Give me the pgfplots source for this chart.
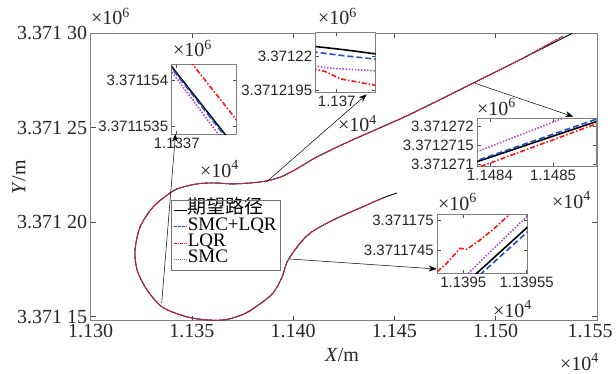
\documentclass[border=0pt]{standalone}
\usepackage{fontspec}
\setmainfont{Liberation Serif}
\newfontfamily\sansf{Liberation Sans}
\newfontfamily\cjk{Noto Sans CJK SC}
\usepackage{pgfplots}
\usepackage{pgfplotstable}
\pgfplotsset{compat=1.18}
\usetikzlibrary{arrows.meta}
\definecolor{cblue}{rgb}{0.13,0.30,0.80}
\definecolor{cred}{rgb}{1,0.08,0.08}
\definecolor{cpurp}{rgb}{0.70,0.30,0.80}
\definecolor{tcol}{rgb}{0.15,0.15,0.15}

% All coordinates: metres relative to (X,Y) = (11300, 3371100)
\pgfplotstableread{
x y
151.3 115.5
144.4 112.9
133.1 107.6
119.7 101.2
108.4 94.3
101.9 86.9
97.0 79.0
94.5 71.0
90.1 62.6
83.6 56.8
76.2 51.7
67.3 48.6
58.9 48.2
47.6 49.9
35.5 55.0
27.8 64.2
22.9 74.8
21.9 85.3
24.4 97.5
30.8 108.1
40.7 116.6
47.6 119.2
54.0 120.5
61.4 120.8
69.8 120.3
78.7 120.8
87.1 121.9
95.0 124.5
103.4 129.3
111.8 134.6
128.1 143.0
152.8 154.7
167.6 162.3
189.9 174.2
212.1 186.1
237.8 200.0
}\desired
\pgfplotstableread{
x y
144.4 112.9
133.1 107.6
119.7 101.2
108.4 94.3
101.9 86.9
97.0 79.0
94.5 71.0
90.1 62.6
83.6 56.8
76.2 51.7
67.3 48.6
58.9 48.2
47.6 49.9
35.5 55.0
27.8 64.2
22.9 74.8
21.9 85.3
24.4 97.5
30.8 108.1
40.7 116.6
47.6 119.2
54.0 120.5
61.4 120.8
69.8 120.3
78.7 120.8
87.1 121.9
95.0 124.5
103.4 129.3
111.8 134.6
128.1 143.0
152.8 154.7
167.6 162.3
189.9 174.2
212.1 186.1
233.3 198.6
}\tracked

\pgfplotsset{
  mlab/.style={scale only axis, anchor=south west,
    axis line style={draw=black!50, line width=0.9pt},
    tick align=inside, major tick length=5pt,
    every tick/.style={black!70, line width=0.6pt},
    scaled ticks=false,
    tick label style={text=tcol}},
  inset/.style={mlab, major tick length=3.5pt,
    axis background/.style={fill=white},
    tick label style={font=\sansf\fontsize{15}{15}\selectfont}},
  sblack/.style={black, line width=1.6pt},
  sblue/.style={cblue, line width=1.6pt, dash pattern=on 6pt off 3pt},
  sred/.style={cred, line width=1.6pt, dash pattern=on 5pt off 2pt on 1.5pt off 2pt},
  spurp/.style={cpurp, line width=1.6pt, dash pattern=on 1.5pt off 1.6pt},
}

\begin{document}
\begin{tikzpicture}[x=1pt,y=1pt]
\path[use as bounding box] (0,0) rectangle (616,373);

\begin{axis}[mlab, name=main, at={(90.7pt,52.3pt)},
  width=506.3pt, height=287.4pt,
  xmin=0, xmax=250, ymin=47.9, ymax=200,
  xtick={0,50,100,150,200,250},
  xticklabels={1.130,1.135,1.140,1.145,1.150,1.155\hspace*{14pt}},
  ytick={50,100,150,200},
  yticklabels={3.371\ 15,3.371\ 20,3.371\ 25,3.371\ 30},
  tick label style={font=\fontsize{20}{20}\selectfont},
  legend cell align=left,
  legend style={at={(axis description cs:0.16,0.42)}, anchor=north west,
    draw=none, fill=white, outer sep=0pt,
    inner xsep=2pt, inner ysep=2.5pt, row sep=0pt,
    nodes={inner sep=0pt, text height=11.5pt, text depth=4.8pt,
      font=\fontsize{19}{19}\selectfont}},
]
\addplot[draw=black, line width=0.9pt, smooth, tension=0.5, forget plot] table {\desired};
\addplot[draw=cpurp, line width=0.9pt, dash pattern=on 1pt off 1pt, smooth, tension=0.5, forget plot] table {\tracked};
\addplot[draw=cblue, line width=0.9pt, dash pattern=on 3pt off 1.5pt, smooth, tension=0.5, forget plot] table {\tracked};
\addplot[draw=cred, line width=0.9pt, dash pattern=on 3pt off 1pt on 1pt off 1pt, smooth, tension=0.5, forget plot] table {\tracked};
\addlegendimage{legend image code/.code={\draw[black, line width=1pt] (0pt,0pt) -- (13pt,0pt);}}
\addlegendentry{{\cjk 期望路径}}
\addlegendimage{legend image code/.code={\draw[cblue, line width=1.1pt, dash pattern=on 2.5pt off 1.5pt] (0pt,0pt) -- (13pt,0pt);}}
\addlegendentry{SMC+LQR}
\addlegendimage{legend image code/.code={\draw[cred, line width=1.1pt, dash pattern=on 3pt off 1pt on 1pt off 1pt] (0pt,0pt) -- (13pt,0pt);}}
\addlegendentry{LQR}
\addlegendimage{legend image code/.code={\draw[cpurp, line width=1.1pt, dash pattern=on 1pt off 1pt] (0pt,0pt) -- (13pt,0pt);}}
\addlegendentry{SMC}
\end{axis}
\draw[black!55, line width=0.6pt] (171.7,102.3) rectangle (280,173);

% inset 1
\begin{axis}[inset, at={(171.7pt,238.7pt)}, width=65pt, height=70.3pt,
  xmin=36.94, xmax=37.72, ymin=53.41, ymax=54.174,
  xtick={37}, xticklabels={1.1337},
  ytick={53.5,54}, yticklabels={3.3711535,3.371154}]
\addplot[sblack] coordinates {(36.90,54.191) (37.60,53.387)};
\addplot[sblue] coordinates {(36.90,54.176) (37.58,53.389)};
\addplot[sred] coordinates {(37.16,54.205) (37.76,53.519)};
\addplot[spurp] coordinates {(36.90,54.139) (37.52,53.385)};
\end{axis}

% inset 2
\begin{axis}[inset, at={(315.7pt,280.3pt)}, width=60pt, height=60pt,
  xmin=69.79, xmax=70.39, ymin=119.47, ymax=120.333,
  xtick={70}, xticklabels={1.137},
  ytick={119.5,120}, yticklabels={3.3712195,3.37122}]
\addplot[sblack, smooth] coordinates {(69.75,120.14) (70.083,120.086) (70.43,120.02)};
\addplot[sblue, smooth] coordinates {(69.75,120.06) (70.083,120.0) (70.43,119.947)};
\addplot[sred] coordinates {(69.75,119.819) (69.883,119.776) (70.033,119.671) (70.133,119.643) (70.233,119.618) (70.43,119.565)};
\addplot[spurp, smooth] coordinates {(69.75,119.867) (69.933,119.824) (70.43,119.782)};
\end{axis}

% inset 3
\begin{axis}[inset, at={(477.3pt,207pt)}, width=118.7pt, height=47.7pt,
  xmin=183.8, xmax=185.68, ymin=170.95, ymax=172.2,
  xtick={184,185}, xticklabels={1.1484,1.1485},
  ytick={171,171.5,172}, yticklabels={3.371271,3.3712715,3.371272}]
\addplot[sblack] coordinates {(183.7,171.009) (185.8,172.178)};
\addplot[sblue] coordinates {(183.7,171.038) (185.8,172.243)};
\addplot[sred] coordinates {(183.7,170.845) (185.8,172.124)};
\addplot[spurp] coordinates {(183.7,171.263) (185.8,172.616)};
\end{axis}

% inset 4
\begin{axis}[inset, at={(437.3pt,99.7pt)}, width=90pt, height=59.3pt,
  xmin=94.795, xmax=95.505, ymin=74.103, ymax=75.114,
  xtick={95,95.5}, xticklabels={1.1395,1.13955},
  ytick={74.5,75}, yticklabels={3.3711745,3.371175}]
\addplot[sblack] coordinates {(95.09,74.072) (95.53,74.936)};
\addplot[sblue] coordinates {(95.13,74.074) (95.53,74.856)};
\addplot[sred] coordinates {(94.795,74.130) (94.869,74.273) (94.974,74.529) (95.027,74.512) (95.132,74.671) (95.237,74.853) (95.368,75.114) (95.40,75.17)};
\addplot[spurp] coordinates {(95.02,74.063) (95.53,75.132)};
\end{axis}

% arrows
\begin{scope}[black, line width=0.5pt, -{Stealth[length=8pt,width=6pt]}]
\draw (161.7,70) -- (175.5,239);
\draw (266.7,191.3) -- (366.7,278.7);
\draw (475,289.7) -- (573.3,256.3);
\draw (290,114) -- (436.7,104);
\end{scope}

% multipliers and axis titles
\begin{scope}[every node/.style={inner sep=0pt, anchor=base west, text=tcol, font=\fontsize{20}{20}\selectfont}]
\node at (91,348) {×10\textsuperscript{6}};
\node at (560,3) {×10\textsuperscript{4}};
\node at (173,316) {×10\textsuperscript{6}};
\node at (200,196) {×10\textsuperscript{4}};
\node at (318,348) {×10\textsuperscript{6}};
\node at (338,241) {×10\textsuperscript{4}};
\node at (477,258) {×10\textsuperscript{6}};
\node at (552,165) {×10\textsuperscript{4}};
\node at (438,163) {×10\textsuperscript{6}};
\node at (493,56) {×10\textsuperscript{4}};
\end{scope}
\node[inner sep=0pt, text=tcol, font=\fontsize{20}{20}\selectfont] at (342,18) {\textit{X}/m};
\node[inner sep=0pt, text=tcol, rotate=90, font=\fontsize{20}{20}\selectfont] at (19,196) {\textit{Y}/m};
\end{tikzpicture}
\end{document}
